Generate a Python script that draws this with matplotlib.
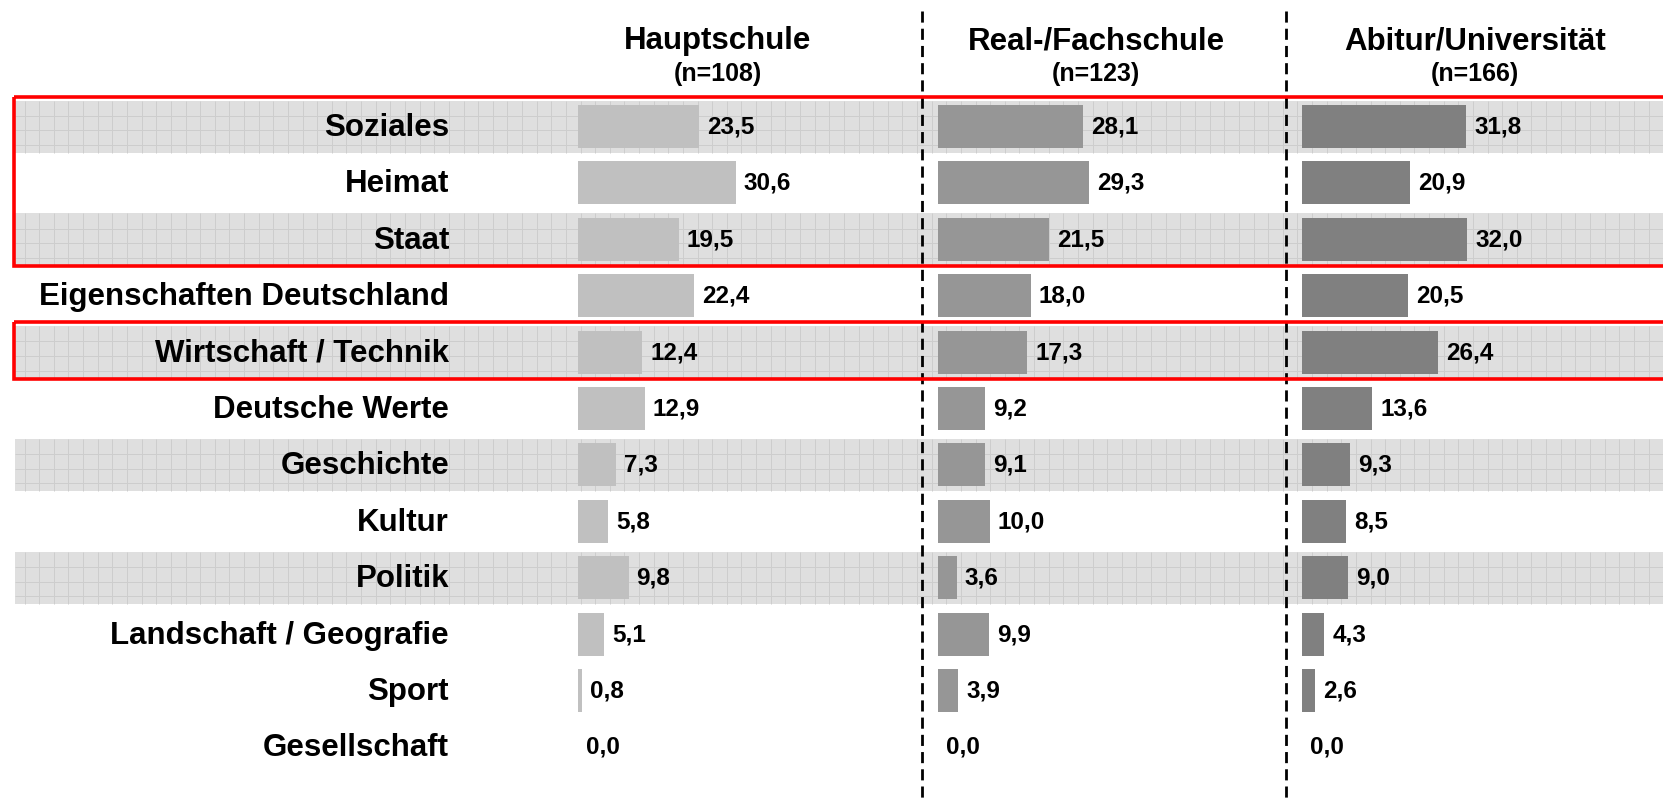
import matplotlib
matplotlib.use("Agg")
import matplotlib.pyplot as plt
from matplotlib.patches import Rectangle
import numpy as np

plt.rcParams['font.family'] = ['Liberation Sans', 'DejaVu Sans']
plt.rcParams['font.weight'] = 'bold'

# data (percent)
categories = ["Soziales", "Heimat", "Staat", "Eigenschaften Deutschland",
              "Wirtschaft / Technik", "Deutsche Werte", "Geschichte", "Kultur",
              "Politik", "Landschaft / Geografie", "Sport", "Gesellschaft"]
hauptschule = [23.5, 30.6, 19.5, 22.4, 12.4, 12.9, 7.3, 5.8, 9.8, 5.1, 0.8, 0.0]
realschule = [28.1, 29.3, 21.5, 18.0, 17.3, 9.2, 9.1, 10.0, 3.6, 9.9, 3.9, 0.0]
abitur = [31.8, 20.9, 32.0, 20.5, 26.4, 13.6, 9.3, 8.5, 9.0, 4.3, 2.6, 0.0]
groups = ["Hauptschule", "Real-/Fachschule", "Abitur/Universität"]
group_n = [108, 123, 166]
highlight = [(0, 2), (4, 4)]   # rows framed in red

W, H = 1663, 801
fig = plt.figure(figsize=(W / 100, H / 100), dpi=100)

# row layout (pixels from top)
row0, step = 126.5, 56.4
def px2row(p):
    return (p - row0) / step
ylim = (px2row(H), px2row(0))
rows = np.arange(len(categories))

# background layer: bands, grid texture, red frames, labels, dividers
bg = fig.add_axes([0, 0, 1, 1])
bg.set_xlim(0, W)
bg.set_ylim(*ylim)
bg.axis('off')

band_rows = rows[::2][:-1]
band_h = 52 / step
bg.barh(band_rows, W - 15, left=15, height=band_h, color='#dfdfdf', zorder=0)
grid_x = np.arange(24.6, W, 14.63)
for r in band_rows:
    bg.vlines(grid_x, r - band_h / 2, r + band_h / 2, color='#cdcdcd', lw=0.7, zorder=1)
    for off in (-10.8, 3.8, 18.4):
        bg.hlines(r + off / step, 15, W, color='#cdcdcd', lw=0.7, zorder=1)

for a, b in highlight:
    top = a - 30 / step
    bot = b + 27 / step
    bg.add_patch(Rectangle((13.5, top), W + 50, bot - top, fill=False,
                           edgecolor='#ff0000', lw=2.6, zorder=5))

for r, c in zip(rows, categories):
    bg.text(449, r + 9.5 / step, c, ha='right', va='baseline', fontsize=22.5,
            fontweight='bold', zorder=6)

bg.vlines([922, 1286], px2row(11), px2row(H), color='black', lw=2,
          linestyles=(0, (4.0, 2.2)), zorder=4)

# panels
scale = 5.16  # px per percent
panels = [(562, 922), (922, 1286), (1286, W)]
series = [hauptschule, realschule, abitur]
colors = ['#c0c0c0', '#969696', '#808080']
title_x = [718, 1096, 1475]

for (l, r), vals, col, g, n, tx in zip(panels, series, colors, groups, group_n, title_x):
    ax = fig.add_axes([l / W, 0, (r - l) / W, 1])
    ax.patch.set_alpha(0)
    ax.set_xlim(-16 / scale, (r - l - 16) / scale)
    ax.set_ylim(*ylim)
    ax.axis('off')
    ax.barh(rows, vals, height=43 / step, color=col, zorder=3)
    for y, v in zip(rows, vals):
        ax.annotate(f"{v:.1f}".replace('.', ','), (v, y + 7 / step), xytext=(5.8, 0),
                    textcoords='offset points', ha='left', va='baseline',
                    fontsize=17.5, fontweight='bold', zorder=6)
    fig.text(tx / W, 1 - 49 / H, g, ha='center', va='baseline', fontsize=22.5, fontweight='bold')
    fig.text(tx / W, 1 - 81 / H, f"(n={n})", ha='center', va='baseline', fontsize=18, fontweight='bold')

fig.savefig("out.png", dpi=100)
